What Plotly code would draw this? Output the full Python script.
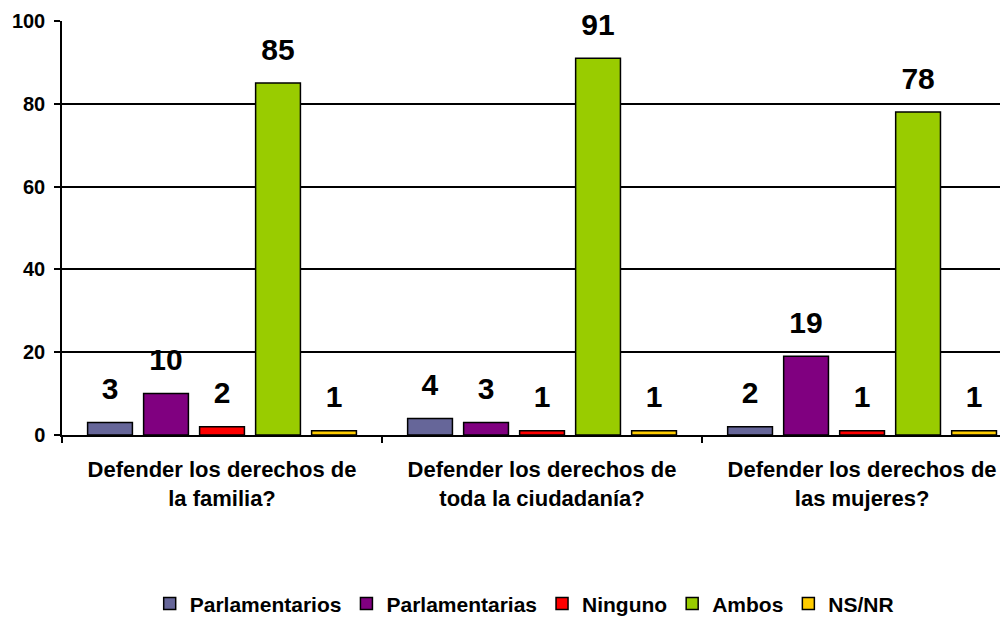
import plotly.graph_objects as go

categories = ['Defender los derechos de<br>la familia?',
              'Defender los derechos de<br>toda la ciudadanía?',
              'Defender los derechos de<br>las mujeres?']
series_names = ['Parlamentarios', 'Parlamentarias', 'Ninguno', 'Ambos', 'NS/NR']
parlamentarios = [3, 4, 2]
parlamentarias = [10, 3, 19]
ninguno = [2, 1, 1]
ambos = [85, 91, 78]
nsnr = [1, 1, 1]

values = [parlamentarios, parlamentarias, ninguno, ambos, nsnr]
colors = ['#666699', '#800080', '#FF0000', '#99CC00', '#FFCC00']

FONT = 'Arial, Liberation Sans, sans-serif'

fig = go.Figure()
for i, name in enumerate(series_names):
    fig.add_trace(go.Bar(x=categories, y=values[i], name=name,
                         offsetgroup=str(i),
                         marker=dict(color=colors[i],
                                     line=dict(color='black', width=1.5))))
# invisible spacer bars sitting on each bar, so the value labels float above
for i, name in enumerate(series_names):
    fig.add_trace(go.Bar(x=categories, y=[3.5] * len(categories), base=values[i],
                         offsetgroup=str(i), showlegend=False, hoverinfo='skip',
                         marker=dict(color='rgba(0,0,0,0)', line=dict(width=0)),
                         text=values[i], texttemplate='%{text}',
                         textposition='outside', cliponaxis=False,
                         textfont=dict(family=FONT, size=30, color='black',
                                       weight='bold')))

# the page body adds an 8px offset, so margins are set 8px smaller
fig.update_layout(
    width=1008, height=617,
    margin=dict(l=54, r=0, t=13, b=190),
    plot_bgcolor='white', paper_bgcolor='white',
    barmode='group', bargap=0.125, bargroupgap=0.2,
    font=dict(family=FONT, color='black'),
    showlegend=True,
    legend=dict(orientation='h', x=0.485, xanchor='center',
                y=-0.408, yanchor='middle',
                font=dict(family=FONT, size=21, weight='bold'),
                itemwidth=30, tracegroupgap=0),
    xaxis=dict(range=[-0.5, 2.481], showline=True, linecolor='black',
               linewidth=1.5, ticks='outside', tickson='boundaries',
               ticklen=6, tickcolor='black', tickwidth=1.5, automargin=False,
               ticklabelstandoff=14,
               tickfont=dict(family=FONT, size=22, weight='bold')),
    yaxis=dict(range=[0, 100], dtick=20, showline=True, linecolor='black',
               linewidth=1.5, showgrid=True, gridcolor='black', gridwidth=1.5,
               ticks='outside', ticklen=6, tickcolor='black', tickwidth=1.5,
               zeroline=False, automargin=False, ticklabelstandoff=5,
               tickfont=dict(family=FONT, size=20, weight='bold')),
)

fig.write_html('out.html')
